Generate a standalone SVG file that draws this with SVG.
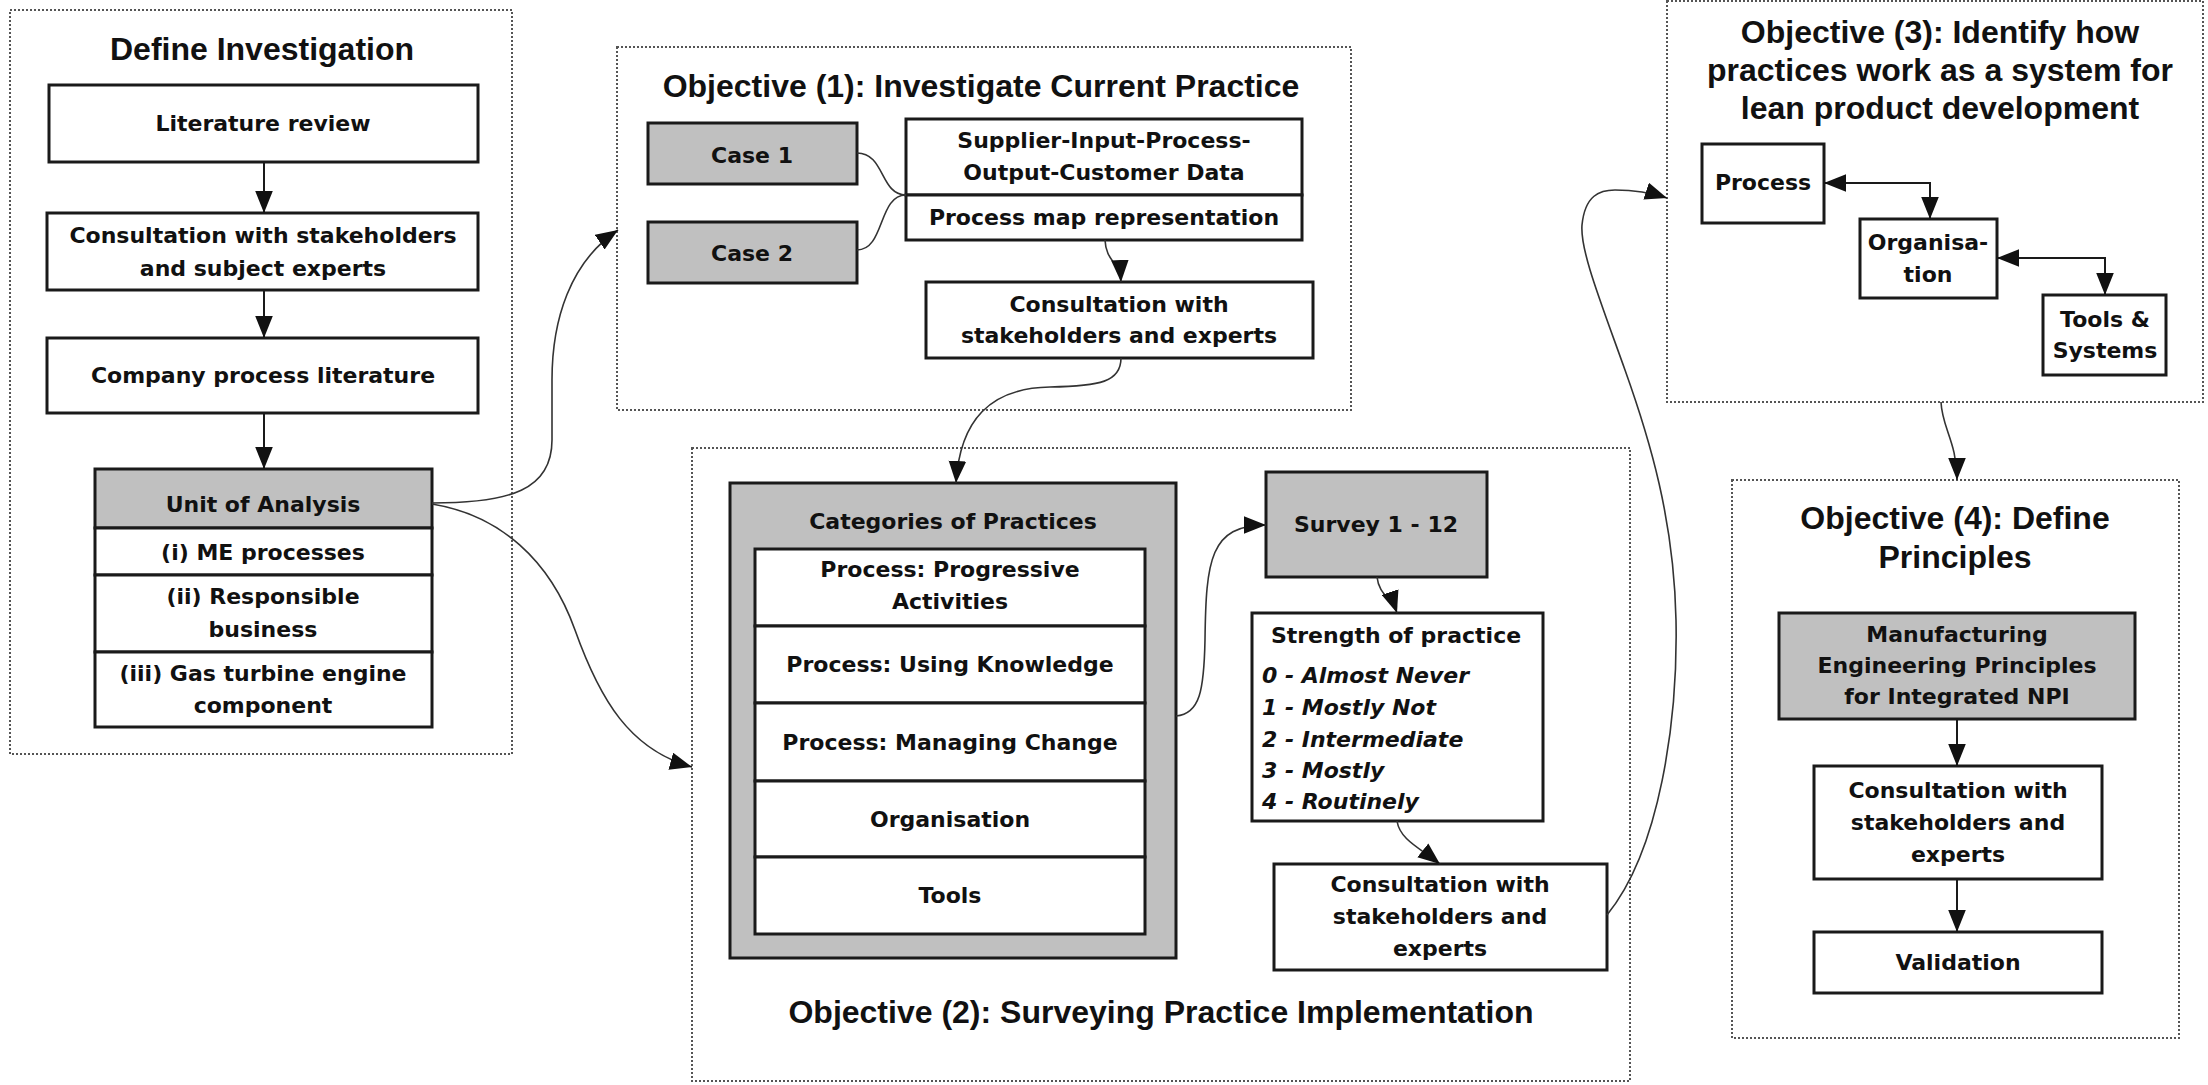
<svg xmlns="http://www.w3.org/2000/svg" width="2208" height="1085" viewBox="0 0 2208 1085">
<defs>
<style>
.t{font-family:"Liberation Sans",Arial,sans-serif;font-weight:bold;font-size:32px;text-anchor:middle;fill:#111}
.b{font-family:"DejaVu Sans",Verdana,sans-serif;font-weight:bold;font-size:22px;text-anchor:middle;fill:#111}
.i{font-family:"DejaVu Sans",Verdana,sans-serif;font-weight:bold;font-style:italic;font-size:22px;text-anchor:start;fill:#111}
.box{fill:#fff;stroke:#1a1a1a;stroke-width:3}
.gray{fill:#c0c0c0;stroke:#1a1a1a;stroke-width:3}
.grp{fill:none;stroke:#555;stroke-width:2;stroke-dasharray:2 2}
.c{fill:none;stroke:#1a1a1a;stroke-width:2}
.cc{fill:none;stroke:#333;stroke-width:1.6}
</style>
<marker id="ah" markerUnits="userSpaceOnUse" markerWidth="22" markerHeight="18" refX="20" refY="8" orient="auto-start-reverse" viewBox="0 0 20 16"><path d="M0,0 L20,8 L0,16 z" fill="#111"/></marker>
</defs>
<rect width="2208" height="1085" fill="#fff"/>

<g id="define-investigation">
<rect class="grp" x="10" y="10" width="502" height="744"/>
<text class="t" x="262" y="60">Define Investigation</text>
</g>
<g id="literature-review">
<rect class="box" x="49" y="85" width="429" height="77"/>
<text class="b" x="263" y="131">Literature review</text>
</g>
<g id="consultation-1">
<rect class="box" x="47" y="213" width="431" height="77"/>
<text class="b" x="263" y="243">Consultation with stakeholders</text>
<text class="b" x="263" y="276">and subject experts</text>
</g>
<g id="company-process">
<rect class="box" x="47" y="338" width="431" height="75"/>
<text class="b" x="263" y="383">Company process literature</text>
</g>
<g id="unit-of-analysis">
<rect class="gray" x="95" y="469" width="337" height="59"/>
<text class="b" x="263" y="512">Unit of Analysis</text>
<rect class="box" x="95" y="528" width="337" height="47"/>
<text class="b" x="263" y="560">(i) ME processes</text>
<rect class="box" x="95" y="575" width="337" height="77"/>
<text class="b" x="263" y="604">(ii) Responsible</text>
<text class="b" x="263" y="637">business</text>
<rect class="box" x="95" y="652" width="337" height="75"/>
<text class="b" x="263" y="681">(iii) Gas turbine engine</text>
<text class="b" x="263" y="713">component</text>
</g>

<g id="objective-1">
<rect class="grp" x="617" y="47" width="734" height="363"/>
<text class="t" x="981" y="97">Objective (1): Investigate Current Practice</text>
</g>
<g id="case-1">
<rect class="gray" x="648" y="123" width="209" height="61"/>
<text class="b" x="752" y="163">Case 1</text>
</g>
<g id="case-2">
<rect class="gray" x="648" y="222" width="209" height="61"/>
<text class="b" x="752" y="261">Case 2</text>
</g>
<g id="sipoc">
<rect class="box" x="906" y="119" width="396" height="76"/>
<text class="b" x="1104" y="148">Supplier-Input-Process-</text>
<text class="b" x="1104" y="180">Output-Customer Data</text>
<rect class="box" x="906" y="195" width="396" height="45"/>
<text class="b" x="1104" y="225">Process map representation</text>
</g>
<g id="consultation-2">
<rect class="box" x="926" y="282" width="387" height="76"/>
<text class="b" x="1119" y="312">Consultation with</text>
<text class="b" x="1119" y="343">stakeholders and experts</text>
</g>

<g id="objective-2">
<rect class="grp" x="692" y="448" width="938" height="633"/>
<text class="t" x="1161" y="1023">Objective (2): Surveying Practice Implementation</text>
</g>
<g id="categories">
<rect class="gray" x="730" y="483" width="446" height="475"/>
<text class="b" x="953" y="529">Categories of Practices</text>
<rect class="box" x="755" y="549" width="390" height="77"/>
<text class="b" x="950" y="577">Process: Progressive</text>
<text class="b" x="950" y="609">Activities</text>
<rect class="box" x="755" y="626" width="390" height="77"/>
<text class="b" x="950" y="672">Process: Using Knowledge</text>
<rect class="box" x="755" y="703" width="390" height="78"/>
<text class="b" x="950" y="750">Process: Managing Change</text>
<rect class="box" x="755" y="781" width="390" height="76"/>
<text class="b" x="950" y="827">Organisation</text>
<rect class="box" x="755" y="857" width="390" height="77"/>
<text class="b" x="950" y="903">Tools</text>
</g>
<g id="survey">
<rect class="gray" x="1266" y="472" width="221" height="105"/>
<text class="b" x="1376" y="532">Survey 1 - 12</text>
</g>
<g id="strength">
<rect class="box" x="1252" y="613" width="291" height="208"/>
<text class="b" x="1396" y="643">Strength of practice</text>
<text class="i" x="1262" y="683">0 - Almost Never</text>
<text class="i" x="1262" y="715">1 - Mostly Not</text>
<text class="i" x="1262" y="747">2 - Intermediate</text>
<text class="i" x="1262" y="778">3 - Mostly</text>
<text class="i" x="1262" y="809">4 - Routinely</text>
</g>
<g id="consultation-3">
<rect class="box" x="1274" y="864" width="333" height="106"/>
<text class="b" x="1440" y="892">Consultation with</text>
<text class="b" x="1440" y="924">stakeholders and</text>
<text class="b" x="1440" y="956">experts</text>
</g>

<g id="objective-3">
<rect class="grp" x="1667" y="1" width="536" height="401"/>
<text class="t" x="1940" y="43">Objective (3): Identify how</text>
<text class="t" x="1940" y="81">practices work as a system for</text>
<text class="t" x="1940" y="119">lean product development</text>
</g>
<g id="process">
<rect class="box" x="1702" y="144" width="122" height="79"/>
<text class="b" x="1763" y="190">Process</text>
</g>
<g id="organisation">
<rect class="box" x="1860" y="219" width="137" height="79"/>
<text class="b" x="1928" y="250">Organisa-</text>
<text class="b" x="1928" y="282">tion</text>
</g>
<g id="tools-systems">
<rect class="box" x="2043" y="295" width="123" height="80"/>
<text class="b" x="2105" y="327">Tools &amp;</text>
<text class="b" x="2105" y="358">Systems</text>
</g>

<g id="objective-4">
<rect class="grp" x="1732" y="480" width="447" height="558"/>
<text class="t" x="1955" y="529">Objective (4): Define</text>
<text class="t" x="1955" y="568">Principles</text>
</g>
<g id="principles">
<rect class="gray" x="1779" y="613" width="356" height="106"/>
<text class="b" x="1957" y="642">Manufacturing</text>
<text class="b" x="1957" y="673">Engineering Principles</text>
<text class="b" x="1957" y="704">for Integrated NPI</text>
</g>
<g id="consultation-4">
<rect class="box" x="1814" y="766" width="288" height="113"/>
<text class="b" x="1958" y="798">Consultation with</text>
<text class="b" x="1958" y="830">stakeholders and</text>
<text class="b" x="1958" y="862">experts</text>
</g>
<g id="validation">
<rect class="box" x="1814" y="932" width="288" height="61"/>
<text class="b" x="1958" y="970">Validation</text>
</g>

<g id="connectors">
<path class="c" d="M264,162 L264,213" marker-end="url(#ah)"/>
<path class="c" d="M264,290 L264,338" marker-end="url(#ah)"/>
<path class="c" d="M264,413 L264,469" marker-end="url(#ah)"/>
<path class="cc" d="M432,503 C510,503 552,490 552,440 L552,380 C552,320 570,262 618,230" marker-end="url(#ah)"/>
<path class="cc" d="M432,504 C500,515 550,560 575,630 C600,700 630,750 692,767" marker-end="url(#ah)"/>
<path class="cc" d="M857,153 C885,153 880,195 906,195"/>
<path class="cc" d="M857,250 C885,250 878,195 906,195"/>
<path class="cc" d="M1105,240 C1106,262 1120,262 1121,282" marker-end="url(#ah)"/>
<path class="cc" d="M1121,358 C1121,382 1100,386 1050,387 C990,388 960,420 956,483" marker-end="url(#ah)"/>
<path class="cc" d="M1176,716 C1200,714 1204,690 1205,640 C1206,560 1210,525 1266,525" marker-end="url(#ah)"/>
<path class="cc" d="M1377,577 C1379,595 1392,598 1397,613" marker-end="url(#ah)"/>
<path class="cc" d="M1397,821 C1400,840 1420,848 1440,864" marker-end="url(#ah)"/>
<path class="cc" d="M1607,915 C1660,850 1678,720 1676,620 C1674,520 1650,440 1625,370 C1600,300 1580,250 1582,225 C1585,195 1600,190 1615,190 C1640,190 1655,194 1667,198" marker-end="url(#ah)"/>
<path class="c" d="M1824,183 L1930,183 L1930,219" marker-start="url(#ah)" marker-end="url(#ah)"/>
<path class="c" d="M1997,258 L2105,258 L2105,295" marker-start="url(#ah)" marker-end="url(#ah)"/>
<path class="cc" d="M1941,402 C1942,428 1957,442 1957,480" marker-end="url(#ah)"/>
<path class="c" d="M1957,719 L1957,766" marker-end="url(#ah)"/>
<path class="c" d="M1957,879 L1957,932" marker-end="url(#ah)"/>
</g>
</svg>
